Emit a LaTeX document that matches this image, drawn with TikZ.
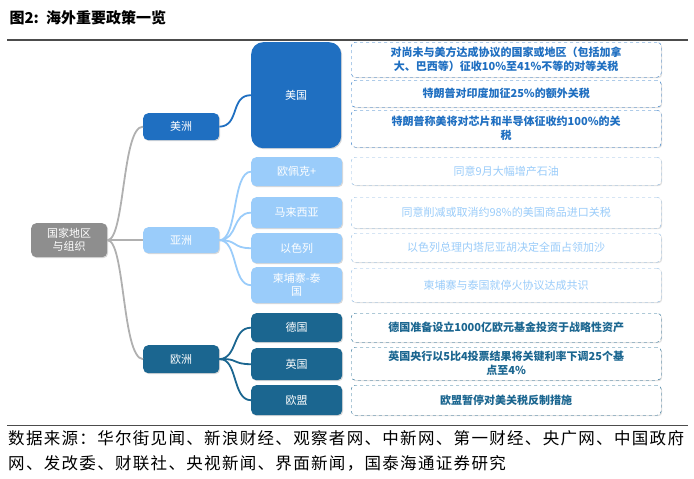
\documentclass[tikz,border=0pt]{standalone}
\usepackage{fontspec}
\setmainfont{Noto Sans CJK SC}
\newfontfamily\spaced[LetterSpace=8]{Noto Sans CJK SC}
\usetikzlibrary{shadows}
\definecolor{usb}{HTML}{1F6FC1}
\definecolor{lb}{HTML}{9ACCFA}
\definecolor{eu}{HTML}{1B6690}
\definecolor{gr}{HTML}{8E8E8E}
\begin{document}
\begin{tikzpicture}[x=1pt,y=-1pt,
 box/.style={rounded corners=5pt,text=white,font=\fontsize{11}{13}\selectfont,align=center,anchor=north west,inner sep=0pt,drop shadow={opacity=0.3,shadow xshift=1pt,shadow yshift=-1pt}},
 tbox/.style={rounded corners=4pt,draw=#1,dashed,fill=white,align=center,anchor=north west,inner sep=0pt,font=\fontsize{11}{14}\selectfont,text=#1,drop shadow={opacity=0.25,shadow xshift=1pt,shadow yshift=-1pt}},
 con/.style={line width=1.8pt,draw=#1}]
\useasboundingbox (0,0) rectangle (694,479);
\node[anchor=west,font=\bfseries\fontsize{15}{17}\selectfont] (title) at (6,18) {图2:\, 海外重要政策一览};
\draw[line width=1.5pt,black!70] (7,40) -- (688,40);
\draw[line width=1pt,black!70] (7,425) -- (688,425);
\node[anchor=north west,align=left,font=\spaced\fontsize{16.5}{25}\selectfont,inner sep=0pt] (src) at (8,430) {数据来源：华尔街见闻、新浪财经、观察者网、中新网、第一财经、央广网、中国政府\\网、发改委、财联社、央视新闻、界面新闻，国泰海通证券研究};
% nodes
\node[box,fill=gr,minimum width=76,minimum height=34] (root) at (31,223) {国家地区\\与组织};
\node[box,fill=usb,minimum width=76,minimum height=27] (am) at (143,113) {美洲};
\node[box,fill=lb,minimum width=76,minimum height=26] (as) at (143,227) {亚洲};
\node[box,fill=eu,minimum width=76,minimum height=28] (eu) at (143,345) {欧洲};
\node[box,fill=usb,minimum width=90,minimum height=106,rounded corners=12pt] (us) at (251,42) {美国};
\node[box,fill=lb,minimum width=91,minimum height=29] (opec) at (251,157) {欧佩克+};
\node[box,fill=lb,minimum width=91,minimum height=31] (my) at (251,197) {马来西亚};
\node[box,fill=lb,minimum width=91,minimum height=30] (il) at (251,233) {以色列};
\node[box,fill=lb,minimum width=91,minimum height=36] (kt) at (251,267) {柬埔寨-泰\\国};
\node[box,fill=eu,minimum width=91,minimum height=29] (de) at (251,313) {德国};
\node[box,fill=eu,minimum width=91,minimum height=32] (uk) at (251,348) {英国};
\node[box,fill=eu,minimum width=91,minimum height=30] (eun) at (251,385) {欧盟};
% text boxes
\node[tbox=usb,minimum width=310,minimum height=35,font=\bfseries\fontsize{11}{14}\selectfont] (t1) at (351,42) {对尚未与美方达成协议的国家或地区（包括加拿\\大、巴西等）征收10\%至41\%不等的对等关税};
\node[tbox=usb,minimum width=310,minimum height=27,font=\bfseries\fontsize{11}{14}\selectfont] (t2) at (351,80) {特朗普对印度加征25\%的额外关税};
\node[tbox=usb,minimum width=310,minimum height=37,font=\bfseries\fontsize{11}{14}\selectfont] (t3) at (351,110) {特朗普称美将对芯片和半导体征收约100\%的关\\税};
\node[tbox=lb!90!black,minimum width=310,minimum height=28,text=lb] (t4) at (351,157) {同意9月大幅增产石油};
\node[tbox=lb!90!black,minimum width=310,minimum height=31,text=lb] (t5) at (351,197) {同意削减或取消约98\%的美国商品进口关税};
\node[tbox=lb!90!black,minimum width=310,minimum height=29,text=lb] (t6) at (351,233) {以色列总理内塔尼亚胡决定全面占领加沙};
\node[tbox=lb!90!black,minimum width=310,minimum height=34,text=lb] (t7) at (351,268) {柬埔寨与泰国就停火协议达成共识};
\node[tbox=eu,minimum width=310,minimum height=29,font=\bfseries\fontsize{11}{14}\selectfont] (t8) at (351,313) {德国准备设立1000亿欧元基金投资于战略性资产};
\node[tbox=eu,minimum width=310,minimum height=33,font=\bfseries\fontsize{11}{14}\selectfont] (t9) at (351,347) {英国央行以5比4投票结果将关键利率下调25个基\\点至4\%};
\node[tbox=eu,minimum width=310,minimum height=30,font=\bfseries\fontsize{11}{14}\selectfont] (t10) at (351,385) {欧盟暂停对美关税反制措施};
% connectors
\draw[con=gr!70] (root.east) .. controls (125,240) and (122,126) .. (am.west);
\draw[con=gr!70] (root.east) -- (as.west);
\draw[con=gr!70] (root.east) .. controls (125,240) and (122,358) .. (eu.west);
\draw[con=usb] (am.east) .. controls (240,126) and (230,95) .. (us.west);
\foreach \n in {opec,my,il,kt}{\draw[con=lb] (as.east) .. controls (238,240) and (232,0|-\n.west) .. (\n.west);}
\foreach \n in {de,uk,eun}{\draw[con=eu] (eu.east) .. controls (238,358) and (232,0|-\n.west) .. (\n.west);}
\end{tikzpicture}
\end{document}
